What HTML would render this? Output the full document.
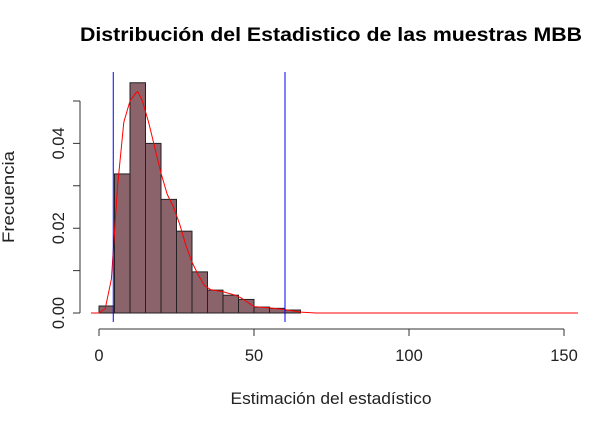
<!DOCTYPE html>
<html><head><meta charset="utf-8"><style>
body{margin:0;background:#fff}
svg{font-family:"Liberation Sans",sans-serif}
</style></head><body>
<svg width="613" height="418" id="c">
<text x="331" y="41" text-anchor="middle" font-size="19" font-weight="bold" textLength="502" lengthAdjust="spacingAndGlyphs">Distribución del Estadistico de las muestras MBB</text>
<text x="331" y="404" text-anchor="middle" font-size="16.5" fill="#222" textLength="201" lengthAdjust="spacingAndGlyphs">Estimación del estadístico</text>
<text transform="translate(14,197) rotate(-90)" text-anchor="middle" font-size="16.5" fill="#222" textLength="92" lengthAdjust="spacingAndGlyphs">Frecuencia</text>
<g id="g"></g>
</svg>
<script>
const binEdges=[0,5,10,15,20,25,30,35,40,45,50,55,60,65];
const binDens=[0.00165,0.0328,0.0543,0.040,0.0268,0.0193,0.0097,0.0054,0.0042,0.0032,0.0014,0.0011,0.0007];
const densX=[-2.6,0,2,4,6,8,10,12,12.5,14,16,18,20,22,24,26,28,30,32,34,36,40,44,46,50,55,60,65,70,154.5];
const densY=[0,0,0.001,0.008,0.03,0.045,0.05,0.052,0.0522,0.05,0.045,0.039,0.033,0.028,0.025,0.021,0.016,0.012,0.009,0.0065,0.0055,0.005,0.0042,0.0035,0.0015,0.0012,0.0008,0.0002,0,0];
const xTicks=[0,50,100,150];
const yTicks=[0,0.01,0.02,0.03,0.04,0.05];
const yLabels={0:"0.00",0.02:"0.02",0.04:"0.04"};
const ciLines=[4.6,60];
const X=v=>99+v*3.1, Y=v=>313-v*4240;
const ns="http://www.w3.org/2000/svg", g=document.getElementById('g');
function mk(t,a){const e=document.createElementNS(ns,t);for(const k in a)e.setAttribute(k,a[k]);g.appendChild(e);return e;}
binDens.forEach((d,i)=>{
 const r=mk('rect',{x:X(binEdges[i]),y:Y(d),width:X(binEdges[i+1])-X(binEdges[i]),height:Y(0)-Y(d),fill:'#8b636b',stroke:'#222','stroke-width':1});
 
 
});
const p=mk('polyline',{points:densX.map((x,i)=>X(x)+','+Y(densY[i])).join(' '),fill:'none',stroke:'#f00','stroke-width':1});


ciLines.forEach(v=>{
 const l=mk('line',{x1:X(v),x2:X(v),y1:72,y2:322,stroke:'#00f','stroke-width':1});
 
 
});
const xa=mk('path',{d:`M${X(0)},329H${X(150)}`+xTicks.map(t=>`M${X(t)},329V336`).join(''),stroke:'#333',fill:'none'});


xTicks.forEach(t=>{const e=mk('text',{x:X(t),y:361,'text-anchor':'middle','font-size':16.5,fill:'#222'});e.textContent=t;
 
 });
const ya=mk('path',{d:`M80,${Y(0)}V${Y(0.05)}`+yTicks.map(t=>`M80,${Y(t)}H73`).join(''),stroke:'#333',fill:'none'});


Object.keys(yLabels).forEach(k=>{const y=Y(+k);const e=mk('text',{transform:`translate(64,${y}) rotate(-90)`,'text-anchor':'middle','font-size':16.5,fill:'#222'});e.textContent=yLabels[k];
 
 });
</script>
</body></html>
